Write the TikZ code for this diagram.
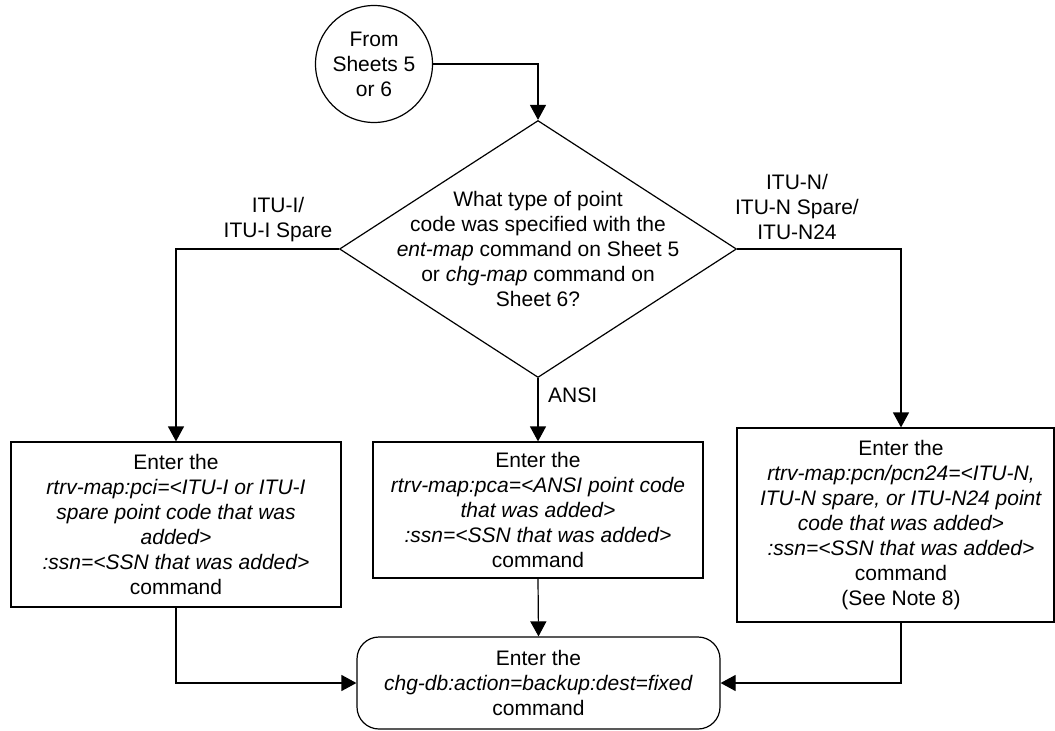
\documentclass[tikz,border=0pt]{standalone}
\usepackage{fontspec}
\setmainfont{Liberation Sans}
\usetikzlibrary{arrows.meta,shapes.geometric}
\begin{document}
\begin{tikzpicture}[x=1pt,y=-1pt,
  every node/.style={font=\fontsize{21}{25}\selectfont, inner sep=0pt},
  link/.style={line width=1.2pt, -{Triangle[length=15pt,width=16pt]}},
  frame/.style={draw, line width=1.2pt},
  stepbox/.style={frame, rectangle, align=center},
  textblock/.style={align=center}]
\useasboundingbox (0,0) rectangle (1055,731);

% connector circle
\node[frame, circle, minimum size=117pt, align=center] (from) at (374,64)
  {From\\Sheets 5\\or 6};

% decision
\node[frame, diamond, minimum width=397pt, minimum height=257pt] (q) at (538,249) {};
\node[textblock] (qtext) at (q.center)
  {What type of point\\code was specified with the\\
   \textit{ent-map} command on Sheet 5\\or \textit{chg-map} command on\\Sheet 6?};

% branch labels
\node[textblock, anchor=south] (litu) at (278,242) {ITU-I/\\ITU-I Spare};
\node[textblock, anchor=south] (ritu) at (797,240) {ITU-N/\\ITU-N Spare/\\ITU-N24};
\node[anchor=west] (ansi) at (548,395) {ANSI};

% command boxes
\node[stepbox, minimum width=330pt, minimum height=165pt] (lbox) at (176,524.5)
  {Enter the\\\textit{rtrv-map:pci=<ITU-I or ITU-I}\\\textit{spare point code that was}\\
   \textit{added>}\\\textit{:ssn=<SSN that was added>}\\command};
\node[stepbox, minimum width=330pt, minimum height=136pt] (mbox) at (538,510)
  {Enter the\\\textit{rtrv-map:pca=<ANSI point code}\\\textit{that was added>}\\
   \textit{:ssn=<SSN that was added>}\\command};
\node[frame, rectangle, minimum width=317pt, minimum height=194pt] (rbox) at (895.5,525) {};
\node[textblock] (rtext) at (901,525)
  {Enter the\\\textit{rtrv-map:pcn/pcn24=<ITU-N,}\\\textit{ITU-N spare, or ITU-N24 point}\\
   \textit{code that was added>}\\\textit{:ssn=<SSN that was added>}\\command\\(See Note 8)};
\coordinate (rin) at (rbox.north -| rtext.center);
\coordinate (rout) at (rbox.south -| rtext.center);

% final step
\node[stepbox, rounded corners=22pt, minimum width=363pt, minimum height=92pt] (done) at (538.5,683)
  {Enter the\\\textit{chg-db:action=backup:dest=fixed}\\command};

% connectors
\draw[link] (from.east) -| (q.north);
\draw[link] (q.west) -| (lbox.north);
\draw[link] (q.east) -| (rin);
\draw[link] (q.south) -- (mbox.north);
\draw[link] (lbox.south) |- (done.west);
\draw[link] (mbox.south) -- (done.north);
\draw[link] (rout) |- (done.east);
\end{tikzpicture}
\end{document}
